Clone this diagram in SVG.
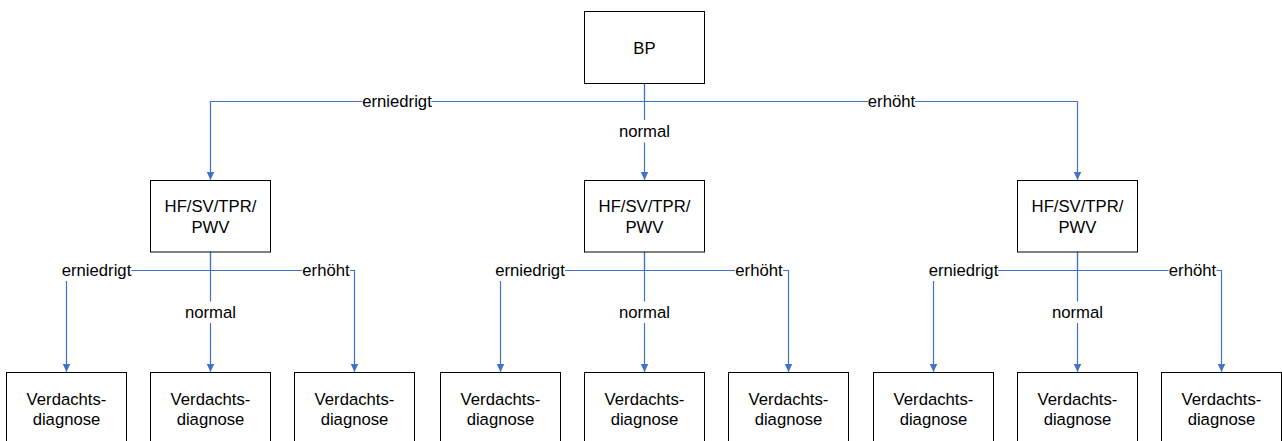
<svg xmlns="http://www.w3.org/2000/svg" width="1282" height="441" viewBox="0 0 1282 441">
<style>
.box{fill:#fff;stroke:#000;stroke-width:1}
.t{font-family:"Liberation Sans",Arial,sans-serif;font-size:16.7px;fill:#000;text-anchor:middle}
.c{fill:none;stroke:#4472C4;stroke-width:1.2}
.bg{fill:#fff}
</style>
<defs>
<marker id="ah" markerUnits="userSpaceOnUse" markerWidth="9" markerHeight="9" refX="8.5" refY="4.5" orient="auto" viewBox="0 0 9 9">
<path d="M0,0.5 L8.5,4.5 L0,8.5 z" fill="#4472C4"/>
</marker>
</defs>
<rect width="1282" height="441" fill="#fff"/>
<g id="connectors">
<path class="c" d="M644.5,83.5 V101.5 H210.5 V180" marker-end="url(#ah)"/>
<path class="c" d="M644.5,83.5 V180" marker-end="url(#ah)"/>
<path class="c" d="M644.5,101.5 H1077.5 V180" marker-end="url(#ah)"/>
<path class="c" d="M210.5,252 V270.5 H66.5 V372" marker-end="url(#ah)"/>
<path class="c" d="M210.5,252 V372" marker-end="url(#ah)"/>
<path class="c" d="M210.5,270.5 H354.5 V372" marker-end="url(#ah)"/>
<path class="c" d="M644.5,252 V270.5 H500.5 V372" marker-end="url(#ah)"/>
<path class="c" d="M644.5,252 V372" marker-end="url(#ah)"/>
<path class="c" d="M644.5,270.5 H788.5 V372" marker-end="url(#ah)"/>
<path class="c" d="M1077.5,252 V270.5 H933.5 V372" marker-end="url(#ah)"/>
<path class="c" d="M1077.5,252 V372" marker-end="url(#ah)"/>
<path class="c" d="M1077.5,270.5 H1221.5 V372" marker-end="url(#ah)"/>
</g>
<g id="labels">
<rect class="bg" x="362.5" y="91" width="69" height="21"/><text class="t" x="397" y="107">erniedrigt</text>
<rect class="bg" x="621" y="120" width="47" height="22.5"/><text class="t" x="644.5" y="137">normal</text>
<rect class="bg" x="868" y="91" width="47" height="21"/><text class="t" x="891.5" y="107">erhöht</text>
<rect class="bg" x="62" y="260" width="69.5" height="21"/><text class="t" x="96.5" y="276">erniedrigt</text>
<rect class="bg" x="187" y="301.5" width="47" height="21.5"/><text class="t" x="210.5" y="318">normal</text>
<rect class="bg" x="302" y="260" width="48" height="21"/><text class="t" x="326" y="276">erhöht</text>
<rect class="bg" x="495.5" y="260" width="69.5" height="21"/><text class="t" x="530" y="276">erniedrigt</text>
<rect class="bg" x="621" y="301.5" width="47" height="21.5"/><text class="t" x="644.5" y="318">normal</text>
<rect class="bg" x="735" y="260" width="48" height="21"/><text class="t" x="759" y="276">erhöht</text>
<rect class="bg" x="928.5" y="260" width="69.5" height="21"/><text class="t" x="963.5" y="276">erniedrigt</text>
<rect class="bg" x="1054" y="301.5" width="47" height="21.5"/><text class="t" x="1077.5" y="318">normal</text>
<rect class="bg" x="1168.5" y="260" width="48" height="21"/><text class="t" x="1192.5" y="276">erhöht</text>
</g>
<g id="node-bp"><rect class="box" x="584.5" y="11.5" width="120" height="72"/><text class="t" x="644.5" y="53.5">BP</text></g>
<g id="node-hf1"><rect class="box" x="150.5" y="180.5" width="120" height="71.5"/><text class="t" x="210.5" y="211.5">HF/SV/TPR/</text><text class="t" x="210.5" y="232.5">PWV</text></g>
<g id="node-hf2"><rect class="box" x="584.5" y="180.5" width="120" height="71.5"/><text class="t" x="644.5" y="211.5">HF/SV/TPR/</text><text class="t" x="644.5" y="232.5">PWV</text></g>
<g id="node-hf3"><rect class="box" x="1017.5" y="180.5" width="120" height="71.5"/><text class="t" x="1077.5" y="211.5">HF/SV/TPR/</text><text class="t" x="1077.5" y="232.5">PWV</text></g>
<g id="node-v1"><rect class="box" x="6.5" y="372.5" width="120" height="72"/><text class="t" x="66.5" y="404.5">Verdachts-</text><text class="t" x="66.5" y="424.5">diagnose</text></g>
<g id="node-v2"><rect class="box" x="150.5" y="372.5" width="120" height="72"/><text class="t" x="210.5" y="404.5">Verdachts-</text><text class="t" x="210.5" y="424.5">diagnose</text></g>
<g id="node-v3"><rect class="box" x="294.5" y="372.5" width="120" height="72"/><text class="t" x="354.5" y="404.5">Verdachts-</text><text class="t" x="354.5" y="424.5">diagnose</text></g>
<g id="node-v4"><rect class="box" x="440.5" y="372.5" width="120" height="72"/><text class="t" x="500.5" y="404.5">Verdachts-</text><text class="t" x="500.5" y="424.5">diagnose</text></g>
<g id="node-v5"><rect class="box" x="584.5" y="372.5" width="120" height="72"/><text class="t" x="644.5" y="404.5">Verdachts-</text><text class="t" x="644.5" y="424.5">diagnose</text></g>
<g id="node-v6"><rect class="box" x="728.5" y="372.5" width="120" height="72"/><text class="t" x="788.5" y="404.5">Verdachts-</text><text class="t" x="788.5" y="424.5">diagnose</text></g>
<g id="node-v7"><rect class="box" x="873.5" y="372.5" width="120" height="72"/><text class="t" x="933.5" y="404.5">Verdachts-</text><text class="t" x="933.5" y="424.5">diagnose</text></g>
<g id="node-v8"><rect class="box" x="1017.5" y="372.5" width="120" height="72"/><text class="t" x="1077.5" y="404.5">Verdachts-</text><text class="t" x="1077.5" y="424.5">diagnose</text></g>
<g id="node-v9"><rect class="box" x="1161.5" y="372.5" width="120" height="72"/><text class="t" x="1221.5" y="404.5">Verdachts-</text><text class="t" x="1221.5" y="424.5">diagnose</text></g>
</svg>
